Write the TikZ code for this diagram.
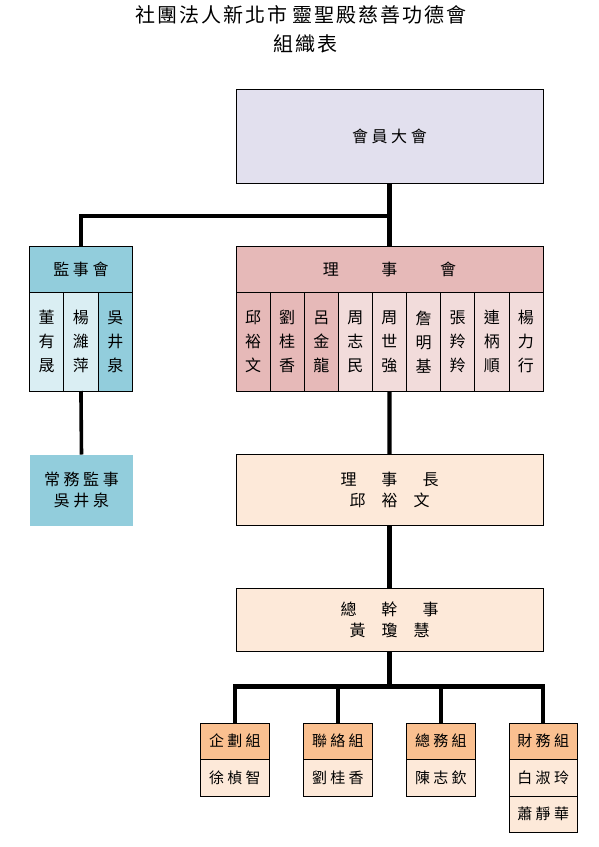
\documentclass[tikz,border=0pt]{standalone}
\usepackage{fontspec}
\setmainfont{Noto Sans CJK TC}
\newfontfamily\spaced[LetterSpace=22]{Noto Sans CJK TC}
\newfontfamily\titlefont[LetterSpace=10]{Noto Sans CJK TC}

\definecolor{lav}{HTML}{E2E0EE}
\definecolor{cyanD}{HTML}{92CDDC}
\definecolor{cyanL}{HTML}{DAEEF3}
\definecolor{redD}{HTML}{E6B9B8}
\definecolor{redL}{HTML}{F2DCDB}
\definecolor{orD}{HTML}{FAC090}
\definecolor{orL}{HTML}{FDE9D9}

\begin{document}
\begin{tikzpicture}[
    x=1pt,
    y=-1pt,
    line cap=butt,
    line join=miter,
    cell/.style={
        draw=black,
        line width=0.7pt,
        inner sep=0pt,
        outer sep=0pt,
        anchor=north west,
        align=center,
        font=\spaced\fontsize{16}{24}\selectfont
    },
    small/.style={
        font=\spaced\fontsize{15}{20}\selectfont
    },
    link/.style={
        line width=4.4pt
    },
    thinlink/.style={
        line width=3.6pt
    }
]

% -------------------------------------------------
% Frame and title
% -------------------------------------------------

\useasboundingbox (0,0) rectangle (598,847);

\node[font=\titlefont\fontsize{20}{24}\selectfont] (T1) at (301,15)
    {社團法人新北市\hspace{5pt}靈聖殿慈善功德會};
\node[font=\titlefont\fontsize{20}{24}\selectfont] (T2) at (305,44)
    {組織表};

% -------------------------------------------------
% Parameters
% -------------------------------------------------

\def\R{236}     % left edge of the right column
\def\W{307}     % width of the right column
\def\w{34.11}   % width of one board member cell

% -------------------------------------------------
% General meeting
% -------------------------------------------------

\node[cell, fill=lav, minimum width=\W pt, minimum height=94pt]
    (M) at (\R,89) {會員大會};

% -------------------------------------------------
% Supervisors (left)
% -------------------------------------------------

\node[cell, fill=cyanD, minimum width=103pt, minimum height=46pt]
    (JH) at (29.5,246.5) {監事會};

\node[cell, fill=cyanL, minimum width=34.3pt, minimum height=98.5pt]
    (JN1) at (29.5,292.5) {董\\有\\晟};
\node[cell, fill=cyanL, minimum width=34.3pt, minimum height=98.5pt]
    (JN2) at (63.8,292.5) {楊\\濰\\萍};
\node[cell, fill=cyanD, minimum width=34.4pt, minimum height=98.5pt]
    (JN3) at (98.1,292.5) {吳\\井\\泉};

% Standing supervisor
\node[cell, draw=none, fill=cyanD, minimum width=103pt, minimum height=71pt]
    (JS) at (30,454.5) {常務監事\\[-3pt]吳井泉};

% -------------------------------------------------
% Board of directors (right)
% -------------------------------------------------

\node[cell, fill=redD, minimum width=\W pt, minimum height=46pt]
    (LH) at (\R,246.5) {理　　事　　會};

\foreach \n [count=\i] in {
    {邱\\裕\\文},{劉\\桂\\香},{呂\\金\\龍},
    {周\\志\\民},{周\\世\\強},{詹\\明\\基},
    {張\\羚\\羚},{連\\柄\\順},{楊\\力\\行}}
{
    \ifnum\i<4 \def\cl{redD}\else \def\cl{redL}\fi
    \node[cell, fill=\cl, minimum width=\w pt, minimum height=98.5pt]
        (LN\i) at ({\R+\w*(\i-1)},292.5) {\n};
}

% Chairman
\node[cell, fill=orL, minimum width=\W pt, minimum height=71pt]
    (C) at (\R,454.5)
    {理\hspace{25pt}事\hspace{25pt}長\\[-3pt]邱\hspace{16pt}裕\hspace{16pt}文};

% General secretary
\node[cell, fill=orL, minimum width=\W pt, minimum height=63.5pt]
    (G) at (\R,588)
    {總\hspace{25pt}幹\hspace{25pt}事\\[-3pt]黃\hspace{16pt}瓊\hspace{16pt}慧};

% -------------------------------------------------
% Working groups
% -------------------------------------------------

\foreach \x/\h/\n [count=\i] in {
    200.7/企劃組/徐楨智, 303.7/聯絡組/劉桂香,
    406.7/總務組/陳志欽, 509/財務組/白淑玲}
{
    \node[cell, small, fill=orD, minimum width=68.5pt, minimum height=36pt]
        (A\i) at (\x,723) {\h};
    \node[cell, small, fill=orL, minimum width=68.5pt, minimum height=37pt]
        (B\i) at (\x,759) {\n};
}

\node[cell, small, fill=orL, minimum width=68.5pt, minimum height=36pt]
    (B5) at (509,796) {蕭靜華};

% -------------------------------------------------
% Connectors
% -------------------------------------------------

\path (M.south) ++(0,33) coordinate (J);
\draw[link] (M.south) -- (LH.north);
\draw[thinlink] (JH.north) |- (J);

\draw[thinlink] (JN2.south) -- (JS.north);
\draw[link] (LN5.south) -- (C.north);
\draw[link] (C.south) -- (G.north);

\draw[link] (G.south) -- ++(0,35) coordinate (K);
\draw[link] (A1.north) |- (K) -| (A4.north);
\draw[link] (A2.north) -- (A2.north |- K);
\draw[link] (A3.north) -- (A3.north |- K);

\end{tikzpicture}
\end{document}
